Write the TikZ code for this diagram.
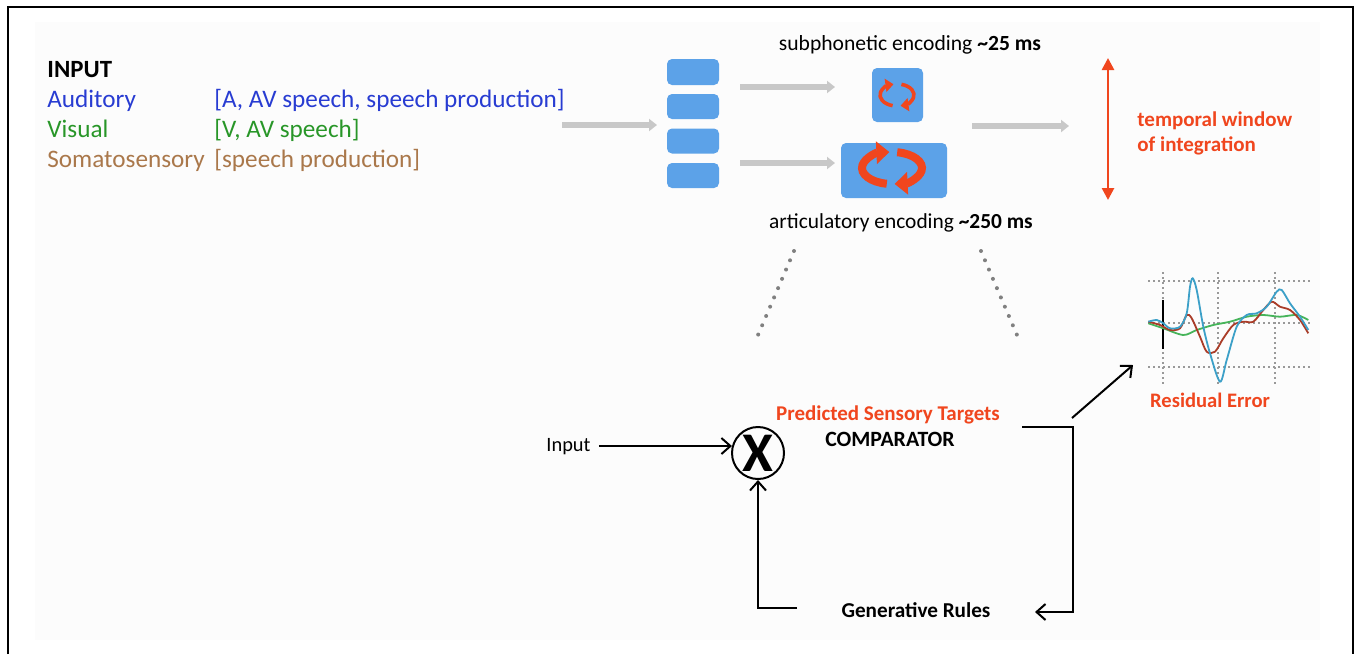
\documentclass[tikz,border=0pt]{standalone}
\usepackage{fontspec}
\setmainfont{Carlito}
\usetikzlibrary{arrows.meta}
\definecolor{audblue}{RGB}{40,60,210}
\definecolor{visgreen}{RGB}{40,150,40}
\definecolor{somabrown}{RGB}{170,120,75}
\definecolor{boxblue}{RGB}{92,162,232}
\definecolor{arrgrey}{RGB}{200,200,200}
\definecolor{accent}{RGB}{240,70,30}
\definecolor{bluewave}{RGB}{60,160,200}
\definecolor{redwave}{RGB}{170,60,40}
\definecolor{greenwave}{RGB}{70,180,90}
\definecolor{panel}{RGB}{252,252,252}
\newcommand{\fsz}[1]{\fontsize{#1}{1.2\dimexpr#1\relax}\selectfont}
\begin{document}
\begin{tikzpicture}[x=0.5pt,y=-0.5pt,
  lbl/.style={inner sep=0pt,anchor=base west},
  lblc/.style={inner sep=0pt,anchor=base},
  bluebox/.style={fill=boxblue,rounded corners=2.5pt,inner sep=0pt},
  greyarrow/.style={draw=arrgrey,line width=3.3pt,-{Triangle[length=4pt,width=6pt]}},
  blackarrow/.style={draw=black,line width=1pt,-{Straight Barb[length=4.5pt,width=8pt]}},
  smallcirc/.style={draw=accent,line width=1.8pt,-{Triangle[length=4pt,width=6.5pt]}},
  bigcirc/.style={draw=accent,line width=4pt,-{Triangle[length=6.5pt,width=11pt]}},
  dotline/.style={draw=gray,line width=2pt,line cap=round,dash pattern=on 0pt off 5.05pt},
  gridline/.style={draw=gray!80,line width=0.6pt,dash pattern=on 1pt off 1.5pt}]
\useasboundingbox (0,0) rectangle (1355,654);
% panel and frame
\fill[panel] (35,22) rectangle (1320,640);
\draw[line width=1pt] (8,654) -- (8,7) -- (1353,7) -- (1353,654);

% input legend
\node[lbl,font=\fsz{12.4pt}\bfseries] (inp) at (47,77) {INPUT};
\node[lbl,font=\fsz{12.6pt},text=audblue] (aud) at (47,107) {Auditory};
\node[lbl,font=\fsz{12.6pt},text=audblue] (audl) at (214,107) {[A, AV speech, speech production]};
\node[lbl,font=\fsz{12.6pt},text=visgreen] (vis) at (47,137) {Visual};
\node[lbl,font=\fsz{12.6pt},text=visgreen] (visl) at (214,137) {[V, AV speech]};
\node[lbl,font=\fsz{12.6pt},text=somabrown] (som) at (47,167) {Somatosensory};
\node[lbl,font=\fsz{12.6pt},text=somabrown] (soml) at (214,167) {[speech production]};

% stack of boxes
\node[bluebox,minimum width=26pt,minimum height=13pt] (b1) at (693,72) {};
\node[bluebox,minimum width=26pt,minimum height=12.5pt] (b2) at (693,106.5) {};
\node[bluebox,minimum width=26pt,minimum height=12.5pt] (b3) at (693,141) {};
\node[bluebox,minimum width=26pt,minimum height=12.5pt] (b4) at (693,175.5) {};
\node[bluebox,minimum width=25.5pt,minimum height=27pt] (sbox) at (897.5,95) {};
\node[bluebox,minimum width=53pt,minimum height=27.5pt] (lbox) at (894,170.5) {};

% circular arrows
\draw[smallcirc] (897,95) ++(105:17 and 11) arc[start angle=105,end angle=258,x radius=17,y radius=11];
\draw[smallcirc] (897,95) ++(-75:17 and 11) arc[start angle=-75,end angle=78,x radius=17,y radius=11];
\draw[bigcirc] (892,168) ++(100:30 and 16) arc[start angle=100,end angle=265,x radius=30,y radius=16];
\draw[bigcirc] (892,168) ++(-80:30 and 16) arc[start angle=-80,end angle=85,x radius=30,y radius=16];

% grey arrows
\coordinate (g0s) at (562,125); \coordinate (g0e) at (657,125);
\draw[greyarrow] (g0s) -- (g0e);
\coordinate (g1s) at (740,87); \coordinate (g1e) at (835,87);
\draw[greyarrow] (g1s) -- (g1e);
\coordinate (g2s) at (740,163); \coordinate (g2e) at (835,163);
\draw[greyarrow] (g2s) -- (g2e);
\coordinate (g3s) at (972,126); \coordinate (g3e) at (1069,126);
\draw[greyarrow] (g3s) -- (g3e);

% encoding labels
\node[lblc,font=\fsz{10.8pt}] (sub) at (910,50) {subphonetic encoding \textbf{\textasciitilde 25 ms}};
\node[lblc,font=\fsz{10.7pt}] (art) at (901,228) {articulatory encoding \textbf{\textasciitilde 250 ms}};

% temporal window
\coordinate (tw1) at (1108,58); \coordinate (tw2) at (1108,200);
\draw[draw=accent,line width=1.3pt,{Triangle[length=6pt,width=6pt]}-{Triangle[length=6pt,width=6pt]}] (tw1) -- (tw2);
\node[lbl,font=\fsz{10.5pt}\bfseries,text=accent] (tw) at (1137,126) {temporal window};
\node[lbl,font=\fsz{10.5pt}\bfseries,text=accent] (oi) at (1137,151) {of integration};

% dotted zoom lines
\coordinate (dl1) at (794,251); \coordinate (dl2) at (758,335);
\coordinate (dr1) at (981,251); \coordinate (dr2) at (1017,335);
\draw[dotline] (dl1) -- (dl2);
\draw[dotline] (dr1) -- (dr2);

% residual error graph
\foreach \yy in {281,323,367} \draw[gridline] (1148,\yy) -- (1310,\yy);
\foreach \xx in {1163,1218,1275} \draw[gridline] (\xx,272) -- (\xx,384);
\draw[line width=0.9pt] (1163,300) -- (1163,349);
\draw[greenwave,line width=0.9pt] plot[smooth] coordinates {(1148.3,323.3) (1163.3,328.3) (1183.3,335) (1196.7,330) (1213.3,325) (1230,321.7) (1246.7,316.7) (1263.3,315) (1280,316.7) (1296.7,315) (1308.3,320)};
\draw[redwave,line width=0.9pt] plot[smooth] coordinates {(1148.3,321.7) (1160,325) (1170,330) (1180,328.3) (1186.7,315) (1191.7,318.3) (1200,336.7) (1206.7,351.7) (1215,351.7) (1223.3,338.3) (1233.3,325) (1243.3,321.7) (1253.3,321.7) (1263.3,310) (1271.7,301.7) (1280,306.7) (1290,310) (1300,320) (1308.3,333.3)};
\draw[bluewave,line width=0.9pt] plot[smooth] coordinates {(1148.3,321.7) (1156.7,320) (1163.3,323.3) (1170,328.3) (1180,326.7) (1186.7,313.3) (1190,286.7) (1192.7,278.3) (1196.7,290) (1203.3,326.7) (1210,353.3) (1220,381.7) (1226.7,360) (1236.7,326.7) (1246.7,315) (1256.7,313.3) (1266.7,306.7) (1276.7,291.7) (1281.7,290) (1290,303.3) (1300,316.7) (1308.3,330)};
\coordinate (graph) at (1133,365);
\node[lblc,font=\fsz{10.3pt}\bfseries,text=accent] (res) at (1210,407) {Residual Error};

% comparator
\node[draw,circle,line width=1pt,minimum size=26pt,inner sep=0pt,font=\fsz{28pt}\bfseries] (cmp) at (758,453) {X};
\node[lbl,font=\fsz{10.2pt}] (input) at (546,451) {Input};
\draw[blackarrow] ([xshift=4pt]input.east |- cmp.165) -- (cmp.165);
\node[lblc,font=\fsz{10.5pt}\bfseries,text=accent] (pst) at (888,420) {Predicted Sensory Targets};
\node[lblc,font=\fsz{10.9pt}\bfseries] (comp) at (890,446) {COMPARATOR};
\node[lblc,font=\fsz{10.6pt}\bfseries] (gen) at (916,617) {Generative Rules};
\coordinate (genL) at (797,608);
\draw[blackarrow] (genL) -| (cmp.south);
\coordinate (loopS) at (1022,427);
\coordinate (loopC) at (1073,427);
\coordinate (loopE) at (1035,612);
\draw[blackarrow] (loopS) -- (loopC) -- (loopC |- loopE) -- (loopE);
\coordinate (resS) at (1072,418);
\draw[blackarrow] (resS) -- (graph);
\end{tikzpicture}
\end{document}
